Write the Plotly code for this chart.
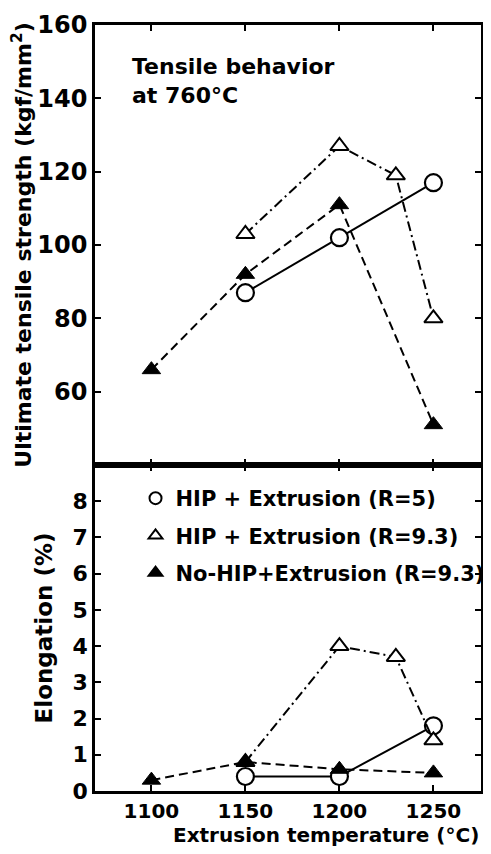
import plotly.graph_objects as go

# Extrusion temperatures (°C)
temp_r5 = [1150, 1200, 1250]
temp_r93 = [1150, 1200, 1230, 1250]
temp_nohip = [1100, 1150, 1200, 1250]

# Ultimate tensile strength (kgf/mm2)
uts_r5 = [87, 102, 117]
uts_r93 = [103, 127, 119, 80]
uts_nohip = [66, 92, 111, 51]

# Elongation (%)
elong_r5 = [0.4, 0.4, 1.8]
elong_r93 = [0.8, 4.0, 3.7, 1.4]
elong_nohip = [0.3, 0.8, 0.6, 0.5]

legend_names = [
    "HIP + Extrusion (R=5)",
    "HIP + Extrusion (R=9.3)",
    "No-HIP+Extrusion (R=9.3)",
]

FONT = "DejaVu Sans"
INK = "black"

series = [
    # name, x, uts, elong, dash, marker
    (legend_names[0], temp_r5, uts_r5, elong_r5, "solid",
     dict(symbol="circle", size=17, color="white", line=dict(color=INK, width=2.2))),
    (legend_names[1], temp_r93, uts_r93, elong_r93, "10px,4px,2px,4px",
     dict(symbol="triangle-up", size=16, color="white", line=dict(color=INK, width=2))),
    (legend_names[2], temp_nohip, uts_nohip, elong_nohip, "9px,5px",
     dict(symbol="triangle-up", size=16, color=INK, line=dict(color=INK, width=1))),
]

fig = go.Figure()

for i, (name, xs, uts, el, dash, marker) in enumerate(series):
    fig.add_trace(go.Scatter(
        x=xs, y=uts, mode="lines+markers", xaxis="x2", yaxis="y2",
        line=dict(color=INK, width=2, dash=dash), marker=marker,
        showlegend=False,
    ))
    fig.add_trace(go.Scatter(
        x=xs, y=el, mode="lines+markers", xaxis="x", yaxis="y",
        line=dict(color=INK, width=2, dash=dash), marker=marker,
        showlegend=False,
    ))
    # marker-only legend entry
    fig.add_trace(go.Scatter(
        x=[None], y=[None], mode="markers", name=name, marker=marker,
        legendgroup=f"g{i}", showlegend=True,
    ))


def axis_style(size):
    return dict(
        showline=True, linecolor=INK, linewidth=2.5, mirror="ticks",
        ticks="inside", ticklen=6, tickwidth=2, tickcolor=INK,
        showgrid=False, zeroline=False,
        tickfont=dict(family=FONT, size=size, color=INK, weight="bold"),
    )


# page has an 8px body margin: keep the figure inside the window (no scrollbars)
split = 326 / 766
x_range = [1070, 1275.3]

fig.update_layout(
    width=475, height=838,
    margin=dict(l=87, r=2, t=17, b=55, autoexpand=False),
    paper_bgcolor="white", plot_bgcolor="white",
    font=dict(family=FONT, color=INK),
    xaxis=dict(**axis_style(20), range=x_range, tickvals=[1100, 1150, 1200, 1250],
               anchor="y", domain=[0, 1], tickangle=0, automargin=False),
    yaxis=dict(**axis_style(22), range=[0, 9], tickvals=list(range(0, 9)),
               domain=[0, split], anchor="x", automargin=False,
               title=dict(text="Elongation (%)", standoff=14,
                          font=dict(family=FONT, size=23, color=INK, weight="bold"))),
    xaxis2=dict(**axis_style(22), range=x_range, tickvals=[1100, 1150, 1200, 1250],
                anchor="y2", matches="x", showticklabels=False, automargin=False),
    yaxis2=dict(**axis_style(24), range=[40, 160], tickvals=[60, 80, 100, 120, 140, 160],
                domain=[split, 1], anchor="x2", automargin=False,
                title=dict(text="Ultimate tensile strength (kgf/mm<sup>2</sup>)", standoff=2,
                           font=dict(family=FONT, size=22, color=INK, weight="bold"))),
    legend=dict(
        x=0.105, y=0.4086, xanchor="left", yanchor="top",
        bgcolor="rgba(0,0,0,0)", tracegroupgap=7,
        font=dict(family=FONT, size=21, color=INK, weight="bold"),
        itemsizing="constant",
    ),
    showlegend=True,
)

fig.add_annotation(
    text="Tensile behavior<br>at 760°C", xref="paper", yref="paper",
    x=0.091, y=0.9648, xanchor="left", yanchor="top", align="left", showarrow=False,
    font=dict(family=FONT, size=22, color=INK, weight="bold"),
)

fig.add_annotation(
    text="Extrusion temperature (°C)", xref="paper", yref="paper",
    x=1.0, y=-0.0574, xanchor="right", yanchor="middle", showarrow=False,
    font=dict(family=FONT, size=20, color=INK, weight="bold"),
)

fig.write_html("out.html")
